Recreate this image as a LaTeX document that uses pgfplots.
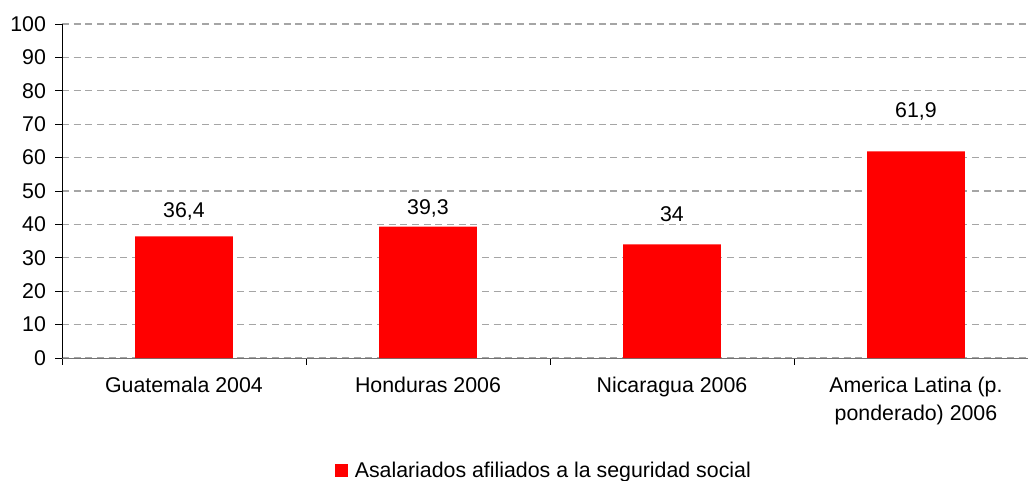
\documentclass[border=0pt]{standalone}
\usepackage{fontspec}
\setmainfont{Liberation Sans}
\usepackage{pgfplots}
\pgfplotsset{compat=1.18}
\definecolor{barred}{RGB}{255,0,0}
\definecolor{gridgray}{RGB}{165,165,165}
\begin{document}
\begin{tikzpicture}
\useasboundingbox (-46.5pt,-91.5pt) rectangle (724.5pt,268.5pt);
\begin{axis}[
  at={(0,0)}, anchor=south west,
  scale only axis,
  width=732pt, height=250.5pt,
  xmin=-0.5, xmax=3.5,
  ymin=0, ymax=100,
  ytick={0,10,...,100},
  ymajorgrids,
  major grid style={gridgray, dash pattern=on 5.25pt off 3.5pt, line width=0.8pt},
  axis x line*=bottom,
  axis y line*=left,
  x axis line style={draw=gray!90!black, -},
  y axis line style={draw=black, -},
  tick align=outside,
  major tick length=5pt,
  tick style={black, line width=0.6pt},
  xtick={-0.5,0.5,1.5,2.5,3.5},
  xticklabels={},
  extra x ticks={0,1,2,3},
  extra x tick labels={Guatemala 2004, Honduras 2006, Nicaragua 2006, {America Latina (p.\\ponderado) 2006}},
  extra x tick style={major tick length=0pt, tick style={draw=none},
     xticklabel style={align=center, font=\fontsize{16}{21}\selectfont, anchor=north, yshift=-10.5pt}},
  yticklabel style={font=\fontsize{16}{18}\selectfont, xshift=-3.5pt},
  /pgf/number format/assume math mode=true,
  legend style={at={(0.494,-0.338)}, anchor=center, draw=none, fill=none,
     font=\fontsize{16}{18}\selectfont, legend cell align=left},
  legend image code/.code={\fill[barred] (0pt,-4.9pt) rectangle (9.8pt,4.9pt); \path (0pt,0pt) (13pt,0pt);},
  clip=false,
]
\addplot[ybar, bar width=0.4, fill=barred, draw=none] coordinates {(0,36.4) (1,39.3) (2,34) (3,61.9)};
\addlegendentry{Asalariados afiliados a la seguridad social}
\addplot[forget plot, draw=none, mark=none, nodes near coords, point meta=explicit symbolic,
   nodes near coords style={anchor=center, font=\fontsize{16}{18}\selectfont}]
   table[meta=label] {
x y label
0 43.9 36,4
1 44.8 39,3
2 43.1 34
3 73.8 61,9
};
\end{axis}
\end{tikzpicture}
\end{document}
